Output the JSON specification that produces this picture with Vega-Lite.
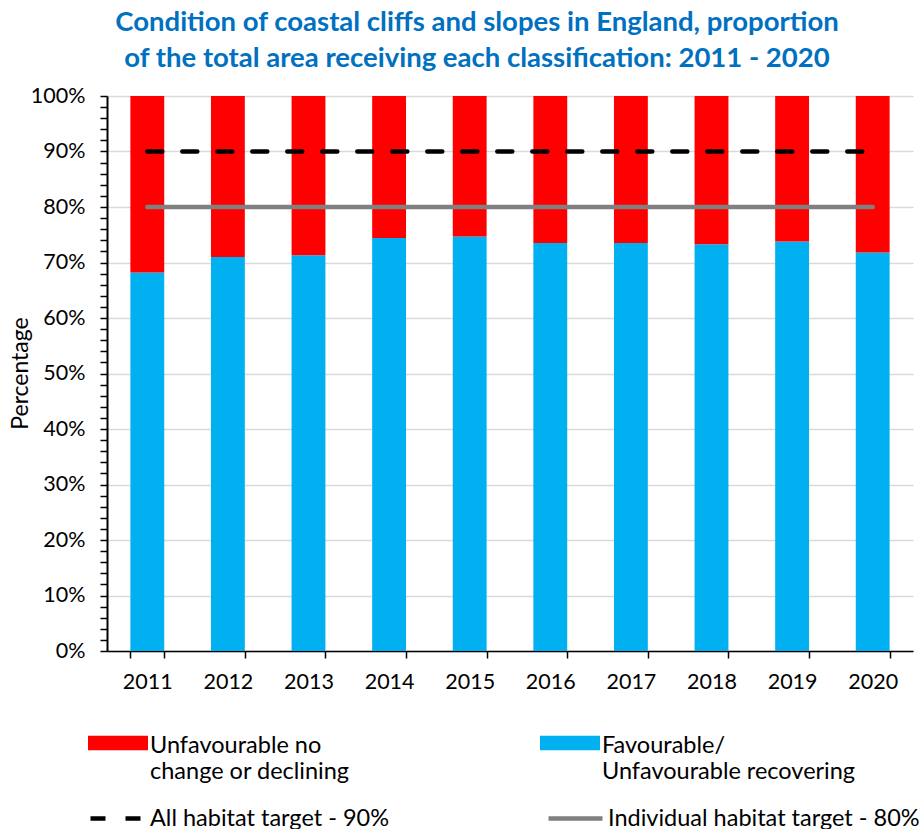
{
  "$schema": "https://vega.github.io/schema/vega-lite/v6.json",
  "width": 806,
  "height": 555,
  "autosize": "none",
  "padding": {"left": 107, "top": 96, "right": 8, "bottom": 178},
  "background": "white",
  "config": {
    "font": "Lato",
    "view": {"stroke": null},
    "axis": {"labelFont": "Lato", "titleFont": "Lato", "labelColor": "#000000", "titleColor": "#000000"},
    "legend": {"labelFont": "Lato", "labelColor": "#000000", "labelFontSize": 23.5}
  },
  "title": {
    "text": ["Condition of coastal cliffs and slopes in England, proportion", "of the total area receiving each classification: 2011 - 2020"],
    "font": "Lato",
    "fontSize": 27.5,
    "fontWeight": "bold",
    "color": "#0070C0",
    "lineHeight": 36,
    "anchor": "middle",
    "dx": -33,
    "offset": 13
  },
  "datasets": {
    "bars": [
      {"year": "2011", "category": "Favourable/ Unfavourable recovering", "value": 68.2},
      {"year": "2011", "category": "Unfavourable no change or declining", "value": 31.8},
      {"year": "2012", "category": "Favourable/ Unfavourable recovering", "value": 71.0},
      {"year": "2012", "category": "Unfavourable no change or declining", "value": 29.0},
      {"year": "2013", "category": "Favourable/ Unfavourable recovering", "value": 71.3},
      {"year": "2013", "category": "Unfavourable no change or declining", "value": 28.7},
      {"year": "2014", "category": "Favourable/ Unfavourable recovering", "value": 74.4},
      {"year": "2014", "category": "Unfavourable no change or declining", "value": 25.6},
      {"year": "2015", "category": "Favourable/ Unfavourable recovering", "value": 74.7},
      {"year": "2015", "category": "Unfavourable no change or declining", "value": 25.3},
      {"year": "2016", "category": "Favourable/ Unfavourable recovering", "value": 73.5},
      {"year": "2016", "category": "Unfavourable no change or declining", "value": 26.5},
      {"year": "2017", "category": "Favourable/ Unfavourable recovering", "value": 73.5},
      {"year": "2017", "category": "Unfavourable no change or declining", "value": 26.5},
      {"year": "2018", "category": "Favourable/ Unfavourable recovering", "value": 73.3},
      {"year": "2018", "category": "Unfavourable no change or declining", "value": 26.7},
      {"year": "2019", "category": "Favourable/ Unfavourable recovering", "value": 73.8},
      {"year": "2019", "category": "Unfavourable no change or declining", "value": 26.2},
      {"year": "2020", "category": "Favourable/ Unfavourable recovering", "value": 71.8},
      {"year": "2020", "category": "Unfavourable no change or declining", "value": 28.2}
    ],
    "targets": [
      {"year": "2011", "target": "All habitat target - 90%", "value": 90},
      {"year": "2020", "target": "All habitat target - 90%", "value": 90},
      {"year": "2011", "target": "Individual habitat target - 80%", "value": 80},
      {"year": "2020", "target": "Individual habitat target - 80%", "value": 80}
    ]
  },
  "resolve": {
    "scale": {"color": "independent", "strokeDash": "independent"},
    "legend": {"color": "independent"},
    "axis": {"y": "independent"}
  },
  "encoding": {
    "x": {
      "field": "year",
      "type": "nominal",
      "scale": {"paddingInner": 0.58, "paddingOuter": 0.29},
      "axis": {
        "title": null,
        "labelAngle": 0,
        "labelFontSize": 21.5,
        "labelPadding": 13,
        "tickBand": "extent",
        "tickSize": 7,
        "tickColor": "#000000",
        "tickWidth": 1.5,
        "domainColor": "#000000",
        "domainWidth": 1.5,
        "grid": false
      }
    }
  },
  "layer": [
    {
      "data": {"name": "bars"},
      "mark": {"type": "bar"},
      "encoding": {
        "y": {
          "field": "value",
          "type": "quantitative",
          "stack": "zero",
          "scale": {"domain": [0, 100], "nice": false},
          "axis": {
            "orient": "left",
            "title": "Percentage",
            "titleFontSize": 23,
            "titleFontWeight": "normal",
            "titleX": -87,
            "titleY": 277,
            "titleAlign": "center",
            "titleBaseline": "middle",
            "titleAngle": -90,
            "values": [0, 10, 20, 30, 40, 50, 60, 70, 80, 90, 100],
            "labelExpr": "datum.value + '%'",
            "labelOverlap": false,
            "labelFontSize": 21.5,
            "labelPadding": 15,
            "tickSize": 7,
            "tickColor": "#000000",
            "tickWidth": 1.5,
            "domainColor": "#000000",
            "domainWidth": 2,
            "grid": true,
            "gridColor": "#D9D9D9",
            "gridWidth": 1.5
          }
        },
        "color": {
          "field": "category",
          "type": "nominal",
          "scale": {
            "domain": ["Unfavourable no change or declining", "Favourable/ Unfavourable recovering"],
            "range": ["#FF0000", "#00B0F0"]
          },
          "legend": {
            "title": null,
            "orient": "none",
            "legendX": -19,
            "legendY": 620,
            "direction": "horizontal",
            "columns": 2,
            "columnPadding": 190,
            "symbolType": "M-1,-0.34H1V0.14H-1Z",
            "symbolSize": 3600,
            "symbolStrokeWidth": 0,
            "symbolOpacity": 1,
            "labelOffset": 2,
            "labelBaseline": "middle",
            "labelExpr": "datum.label == 'Unfavourable no change or declining' ? ['Unfavourable no', 'change or declining'] : ['Favourable/', 'Unfavourable recovering']",
            "labelLimit": 400
          }
        },
        "order": {"field": "category", "sort": "ascending"}
      }
    },
    {
      "data": {"name": "targets"},
      "mark": {"type": "line", "strokeWidth": 4.5, "strokeCap": "round"},
      "encoding": {
        "y": {
          "field": "value",
          "type": "quantitative",
          "axis": {
            "orient": "left",
            "title": null,
            "values": [2,4,6,8,12,14,16,18,22,24,26,28,32,34,36,38,42,44,46,48,52,54,56,58,62,64,66,68,72,74,76,78,82,84,86,88,92,94,96,98],
            "labels": false,
            "grid": false,
            "domain": false,
            "tickSize": 7,
            "tickColor": "#000000",
            "tickWidth": 1.5
          }
        },
        "color": {
          "field": "target",
          "type": "nominal",
          "scale": {
            "domain": ["All habitat target - 90%", "Individual habitat target - 80%"],
            "range": ["#000000", "#808080"]
          },
          "legend": {
            "title": null,
            "orient": "none",
            "legendX": -19,
            "legendY": 690,
            "direction": "horizontal",
            "columns": 2,
            "columnPadding": 150,
            "symbolType": "M-1,0H0.8",
            "symbolSize": 3600,
            "symbolStrokeWidth": 4.5,
            "labelOffset": -3,
            "labelLimit": 400
          }
        },
        "strokeDash": {
          "field": "target",
          "type": "nominal",
          "scale": {
            "domain": ["All habitat target - 90%", "Individual habitat target - 80%"],
            "range": [[15, 20], [1, 0]]
          },
          "legend": {
            "title": null,
            "orient": "none",
            "legendX": -19,
            "legendY": 690,
            "direction": "horizontal",
            "columns": 2,
            "columnPadding": 150,
            "symbolType": "M-1,0H0.8",
            "symbolSize": 3600,
            "symbolStrokeWidth": 4.5,
            "labelOffset": -3,
            "labelLimit": 400
          }
        }
      }
    }
  ]
}
